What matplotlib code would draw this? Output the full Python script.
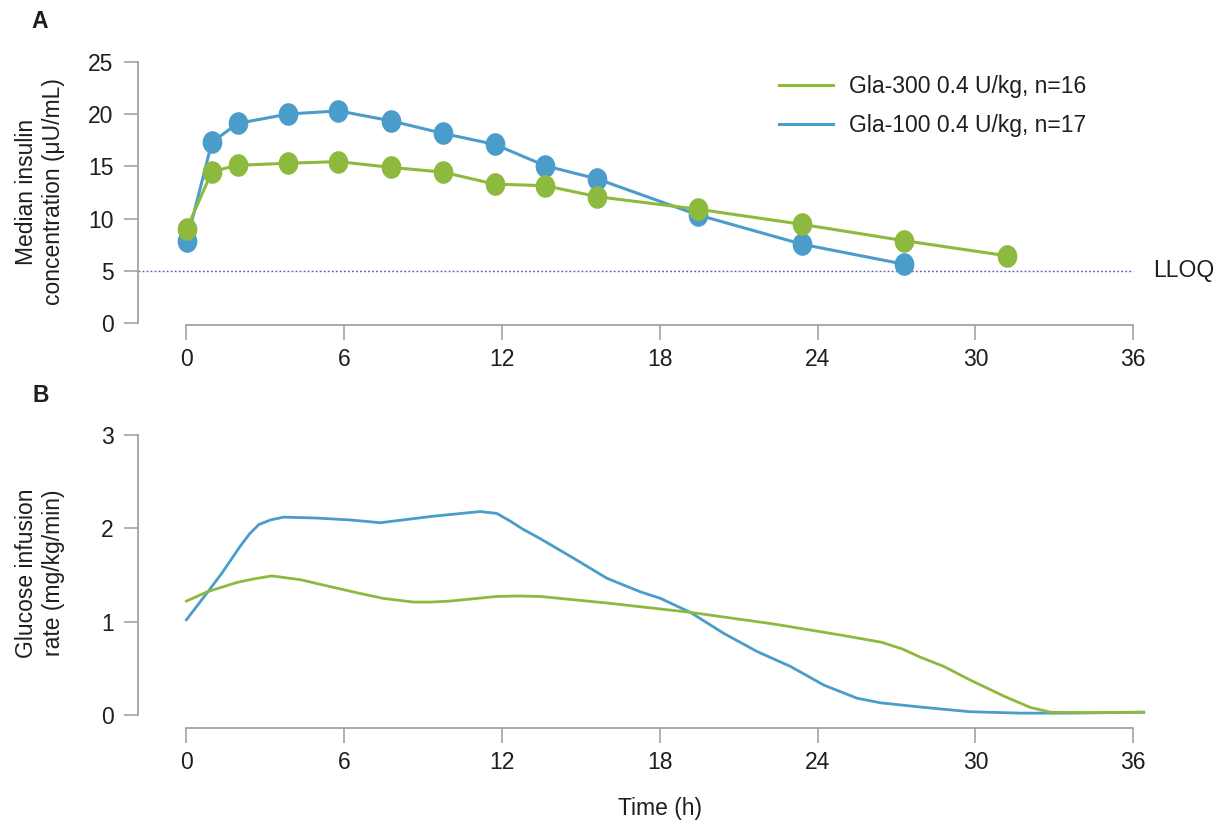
import matplotlib
matplotlib.use('Agg')
import matplotlib.pyplot as plt
from matplotlib.path import Path
from matplotlib.transforms import Affine2D
from matplotlib.lines import Line2D

plt.rcParams['font.family'] = ['Liberation Sans', 'DejaVu Sans']
plt.rcParams['font.size'] = 16.5

# Panel A: median insulin concentration
t_gla100 = [0.02, 0.97, 1.95, 3.88, 5.78, 7.78, 9.75, 11.72, 13.65, 15.62, 19.46, 23.42, 27.28]
ins_gla100 = [7.9, 17.3, 19.1, 20.0, 20.3, 19.35, 18.15, 17.1, 15.05, 13.8, 10.35, 7.55, 5.65]
t_gla300 = [0.02, 0.97, 1.95, 3.88, 5.78, 7.78, 9.75, 11.72, 13.65, 15.62, 19.46, 23.42, 27.28, 31.2]
ins_gla300 = [9.05, 14.5, 15.1, 15.3, 15.45, 14.9, 14.45, 13.3, 13.15, 12.1, 10.9, 9.45, 7.9, 6.45]
LLOQ = 5

# Panel B: glucose infusion rate profiles
gir_t_gla100 = [0, 0.79, 1.35, 2.05, 2.4, 2.75, 3.2, 3.7, 4.95, 6.22, 7.37, 9.39, 11.17, 11.8,
                12.3, 12.8, 13.45, 14.72, 15.99, 17.26, 18.02, 19.16, 20.43, 21.7, 22.97,
                24.24, 25.5, 26.4, 28.1, 29.8, 31.7, 33.6, 36.4]
gir_gla100 = [1.02, 1.31, 1.52, 1.81, 1.94, 2.04, 2.09, 2.12, 2.11, 2.09, 2.06, 2.13, 2.18, 2.16,
              2.08, 1.99, 1.89, 1.68, 1.465, 1.32, 1.25, 1.10, 0.875, 0.68, 0.52,
              0.32, 0.18, 0.13, 0.08, 0.035, 0.02, 0.02, 0.03]
gir_t_gla300 = [0, 0.79, 1.92, 2.6, 3.25, 4.33, 5.4, 6.48, 7.47, 8.63, 9.3, 10.0, 11.8, 12.6,
                13.45, 15.99, 19.16, 22.33, 24.87, 26.42, 27.2, 27.9, 28.8, 29.8, 31.1, 32.1,
                32.86, 34.26, 36.4]
gir_gla300 = [1.22, 1.32, 1.42, 1.46, 1.49, 1.45, 1.38, 1.31, 1.25, 1.21, 1.21, 1.22, 1.27, 1.275,
              1.27, 1.20, 1.10, 0.975, 0.857, 0.78, 0.71, 0.62, 0.52, 0.375, 0.20, 0.08,
              0.03, 0.025, 0.03]

labels = ['Gla-300 0.4 U/kg, n=16', 'Gla-100 0.4 U/kg, n=17']
x_ticks = [0, 6, 12, 18, 24, 30, 36]

GREEN = '#8DBA3E'
BLUE = '#4A9CCB'
AXIS_GRAY = '#9B9B9B'
TXT = '#1E1E1E'

W, H = 1227, 823
fig = plt.figure(figsize=(W / 100, H / 100), dpi=100)
fig.patch.set_facecolor('white')


def px_axes(left, top, right, bottom):
    return fig.add_axes([left / W, 1 - bottom / H, (right - left) / W, (bottom - top) / H])


def style(ax, yticks, bottom_offset):
    ax.patch.set_visible(False)
    for s in ['top', 'right']:
        ax.spines[s].set_visible(False)
    for s in ['left', 'bottom']:
        ax.spines[s].set_color(AXIS_GRAY)
        ax.spines[s].set_linewidth(1.2)
    ax.spines['bottom'].set_bounds(0, 36)
    ax.spines['bottom'].set_position(('outward', bottom_offset))
    ax.spines['left'].set_bounds(yticks[0], yticks[-1])
    ax.set_xticks(x_ticks)
    ax.set_yticks(yticks)
    ax.set_xlim(-1.84, 37)
    ax.set_ylim(yticks[0], yticks[-1])
    ax.tick_params(axis='x', length=10.8, width=1.1, color=AXIS_GRAY, pad=6, labelcolor=TXT)
    ax.tick_params(axis='y', length=10, width=1.1, color=AXIS_GRAY, pad=7.5, labelcolor=TXT)


ell = Affine2D().scale(0.87, 1).transform_path(Path.unit_circle())

# ---- Panel A
ax_a = px_axes(138, 61.7, 1159.5, 323.3)
style(ax_a, [0, 5, 10, 15, 20, 25], 1)
ax_a.hlines(LLOQ, -1.84, 36, colors='#5D55BD', linestyles=(0, (1.3, 1.6)), lw=1, zorder=1)
ax_a.plot(t_gla100, ins_gla100, color=BLUE, lw=2.2, marker=ell, ms=16.3, mew=0, zorder=3, clip_on=False)
ax_a.plot(t_gla300, ins_gla300, color=GREEN, lw=2.2, marker=ell, ms=16.3, mew=0, zorder=4, clip_on=False)
ax_a.annotate('LLOQ', xy=(36, LLOQ), xytext=(14, 0), textcoords='offset points',
              va='center', ha='left', color=TXT)

handles = [Line2D([], [], color=GREEN, lw=2.2), Line2D([], [], color=BLUE, lw=2.2)]
fig.legend(handles, labels, loc='upper left', bbox_to_anchor=(779 / W, 1 - 75 / H),
           frameon=False, borderpad=0, borderaxespad=0, handlelength=2.35,
           handletextpad=0.72, labelspacing=0.68, fontsize=16.5, labelcolor=TXT)

# ---- Panel B
ax_b = px_axes(138, 435, 1159.5, 715)
style(ax_b, [0, 1, 2, 3], 9.4)
ax_b.plot(gir_t_gla100, gir_gla100, color=BLUE, lw=2.0, solid_joinstyle='round', clip_on=False)
ax_b.plot(gir_t_gla300, gir_gla300, color=GREEN, lw=2.0, solid_joinstyle='round', clip_on=False)

# ---- Text
fig.text(40 / W, 1 - 22 / H, 'A', fontweight='bold', ha='center', va='center', color=TXT)
fig.text(41 / W, 1 - 396 / H, 'B', fontweight='bold', ha='center', va='center', color=TXT)
fig.text(40 / W, 1 - 192 / H, 'Median insulin\nconcentration (\u03bcU/mL)', rotation=90,
         ha='center', va='center', multialignment='center', color=TXT)
fig.text(40 / W, 1 - 573 / H, 'Glucose infusion\nrate (mg/kg/min)', rotation=90,
         ha='center', va='center', multialignment='center', color=TXT)
fig.text(660 / W, 1 - 808 / H, 'Time (h)', ha='center', va='center', color=TXT)

fig.savefig('out.png', dpi=100, facecolor='white')
